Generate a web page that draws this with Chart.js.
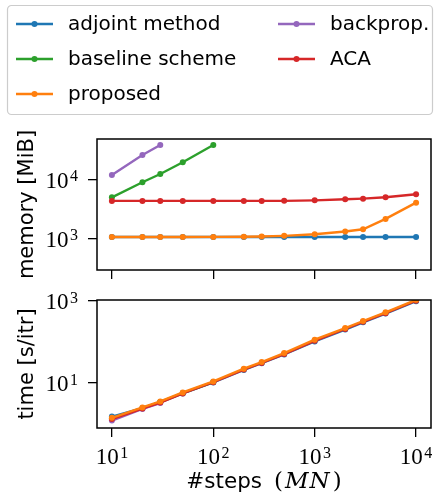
<!DOCTYPE html>
<html>
<head>
<meta charset="utf-8">
<script src="https://cdn.jsdelivr.net/npm/chart.js@4.4.0/dist/chart.umd.min.js"></script>
<style>
  html, body { margin: 0; padding: 0; background: #fff; }
  #wrap { position: relative; width: 435px; height: 493px; }
  #memWrap { position: absolute; left: 0; top: 0; width: 435px; height: 285px; }
  #timeWrap { position: absolute; left: 0; top: 285px; width: 435px; height: 208px; }
</style>
</head>
<body>
<div id="wrap">
  <div id="memWrap"><canvas id="memChart"></canvas></div>
  <div id="timeWrap"><canvas id="timeChart"></canvas></div>
</div>
<script>
const steps = [10, 20, 30, 50, 100, 200, 300, 500, 1000, 2000, 3000, 5000, 10000];

// memory [MiB]
const memAdjoint  = [1050, 1050, 1050, 1050, 1050, 1050, 1050, 1050, 1050, 1050, 1050, 1050, 1050];
const memBaseline = [4950, 8900, 12300, 19400, 38200];
const memProposed = [1050, 1050, 1050, 1052, 1055, 1060, 1070, 1100, 1170, 1300, 1420, 2130, 4020];
const memBackprop = [11800, 25800, 38200];
const memACA      = [4300, 4300, 4300, 4300, 4300, 4300, 4300, 4310, 4400, 4580, 4700, 4950, 5570];

// time [s/itr]
const timeAdjoint  = [1.5, 2.4, 3.35, 5.5, 10.2, 20.5, 30, 49, 102, 198, 298, 485, 970];
const timeBaseline = [1.35, 2.4, 3.4, 5.6, 10.4];
const timeProposed = [1.4, 2.5, 3.5, 5.8, 10.8, 22, 32, 53, 112, 215, 320, 520, 1050];
const timeBackprop = [1.2, 2.3, 3.2];
const timeACA      = [1.3, 2.35, 3.3, 5.5, 10.3, 21, 30.5, 50, 105, 205, 305, 495, 1000];

const xTicks = [10, 100, 1000, 10000];
const memTicks = [1000, 10000];
const timeTicks = [10, 1000];

const names = ['adjoint method', 'baseline scheme', 'proposed', 'backprop.', 'ACA'];
const colors = ['#1f77b4', '#2ca02c', '#ff7f0e', '#9467bd', '#d62728'];
// lower value = drawn on top
const drawOrder = [4, 3, 0, 2, 1];

function series(vals) {
  return vals.map((v, i) => ({ x: steps[i], y: v }));
}

function makeDatasets(all) {
  return all.map((vals, i) => ({
    label: names[i],
    data: series(vals),
    borderColor: colors[i],
    backgroundColor: colors[i],
    pointBackgroundColor: colors[i],
    pointBorderWidth: 0,
    pointRadius: 3,
    borderWidth: 2.4,
    tension: 0,
    order: drawOrder[i]
  }));
}

const frame = {
  id: 'frame',
  afterDatasetsDraw(chart) {
    const a = chart.chartArea;
    const ctx = chart.ctx;
    ctx.save();
    ctx.strokeStyle = '#000';
    ctx.lineWidth = 1.5;
    ctx.strokeRect(a.left, a.top, a.right - a.left, a.bottom - a.top);
    ctx.restore();
  }
};

// "10" with a raised exponent, like matplotlib's mathtext labels
const BASE_FONT = '23px "Liberation Serif"';
const EXP_FONT = '16px "Liberation Serif"';
function drawPow(ctx, v, x, y, align) {
  const e = String(Math.round(Math.log10(v)));
  ctx.font = BASE_FONT;
  const wb = ctx.measureText('10').width;
  ctx.font = EXP_FONT;
  const we = ctx.measureText(e).width;
  const w = wb + 1.5 + we;
  let x0 = align === 'right' ? x - w : x - w / 2;
  ctx.textBaseline = 'alphabetic';
  ctx.textAlign = 'left';
  ctx.fillStyle = '#000';
  ctx.font = BASE_FONT;
  ctx.fillText('10', x0, y);
  ctx.font = EXP_FONT;
  ctx.fillText(e, x0 + wb + 1.5, y - 6.5);
}

function powTicks(showX) {
  return {
    id: 'powTicks',
    afterDraw(chart) {
      const ctx = chart.ctx;
      const a = chart.chartArea;
      ctx.save();
      const ys = chart.scales.y;
      ys.ticks.forEach(t => drawPow(ctx, t.value, a.left - 19, ys.getPixelForValue(t.value) + 8.5, 'right'));
      if (showX) {
        const xs = chart.scales.x;
        xs.ticks.forEach(t => drawPow(ctx, t.value, xs.getPixelForValue(t.value), a.bottom + 36, 'center'));
      }
      ctx.restore();
    }
  };
}

const legendBox = {
  id: 'legendBox',
  afterDraw(chart) {
    const ctx = chart.ctx;
    ctx.save();
    ctx.beginPath();
    ctx.roundRect(7.5, 5.5, 425, 109, 4);
    ctx.fillStyle = '#fff';
    ctx.fill();
    ctx.strokeStyle = '#cccccc';
    ctx.lineWidth = 1.2;
    ctx.stroke();
    const cols = [[0, 1, 2], [3, 4]];
    const colX = [16, 278];
    const rowY = [24, 59, 94];
    ctx.font = '20px "DejaVu Sans"';
    ctx.textBaseline = 'middle';
    cols.forEach((idxs, c) => {
      idxs.forEach((k, r) => {
        const x0 = colX[c], y = rowY[r];
        ctx.strokeStyle = colors[k];
        ctx.lineWidth = 2.4;
        ctx.beginPath();
        ctx.moveTo(x0, y);
        ctx.lineTo(x0 + 37, y);
        ctx.stroke();
        ctx.fillStyle = colors[k];
        ctx.beginPath();
        ctx.arc(x0 + 18.5, y, 3, 0, Math.PI * 2);
        ctx.fill();
        ctx.fillStyle = '#000';
        ctx.fillText(names[k], x0 + 52, y + 1);
      });
    });
    ctx.restore();
  }
};

const xTitle = {
  id: 'xTitle',
  afterDraw(chart) {
    const ctx = chart.ctx;
    const a = chart.chartArea;
    // [text, font, extra space after]
    const parts = [
      ['#steps', '21.5px "DejaVu Sans"', 12],
      ['(', '23px "DejaVu Serif"', 2],
      ['M', 'italic 23px "DejaVu Serif"', 1],
      ['N', 'italic 23px "DejaVu Serif"', 3],
      [')', '23px "DejaVu Serif"', 0]
    ];
    ctx.save();
    let total = 0;
    parts.forEach(p => { ctx.font = p[1]; total += ctx.measureText(p[0]).width + p[2]; });
    let x = (a.left + a.right) / 2 - total / 2;
    ctx.textBaseline = 'middle';
    ctx.fillStyle = '#000';
    parts.forEach(p => {
      ctx.font = p[1];
      ctx.fillText(p[0], x, 197);
      x += ctx.measureText(p[0]).width + p[2];
    });
    ctx.restore();
  }
};

function axisBase(ticksList) {
  return {
    type: 'logarithmic',
    afterBuildTicks(axis) { axis.ticks = ticksList.map(v => ({ value: v })); },
    border: { display: false },
    grid: { display: true, drawOnChartArea: false, drawTicks: true, tickLength: 9, color: '#000', lineWidth: 1.3 },
    ticks: { autoSkip: false, maxRotation: 0, padding: 6, color: '#000', callback: () => '' }
  };
}

function yTitle(text) {
  return { display: true, text: text, color: '#000', font: { family: 'DejaVu Sans', size: 21 }, padding: { top: 15, bottom: 0 } };
}

const memCfg = {
  type: 'line',
  data: { datasets: makeDatasets([memAdjoint, memBaseline, memProposed, memBackprop, memACA]) },
  options: {
    responsive: true,
    maintainAspectRatio: false,
    animation: false,
    layout: { padding: { left: 0, right: 2, top: 139, bottom: 0 } },
    plugins: { legend: { display: false }, tooltip: { enabled: false } },
    scales: {
      x: Object.assign(axisBase(xTicks), {
        min: 7.13, max: 14030,
        afterFit(s) { s.height = 15; }
      }),
      y: Object.assign(axisBase(memTicks), {
        min: 290, max: 48200,
        afterFit(s) { s.width = 97; },
        title: yTitle('memory [MiB]')
      })
    }
  },
  plugins: [frame, legendBox, powTicks(false)]
};

const timeCfg = {
  type: 'line',
  data: { datasets: makeDatasets([timeAdjoint, timeBaseline, timeProposed, timeBackprop, timeACA]) },
  options: {
    responsive: true,
    maintainAspectRatio: false,
    animation: false,
    layout: { padding: { left: 0, right: 2, top: 15, bottom: 0 } },
    plugins: { legend: { display: false }, tooltip: { enabled: false } },
    scales: {
      x: Object.assign(axisBase(xTicks), {
        min: 7.13, max: 14030,
        afterFit(s) { s.height = 65; }
      }),
      y: Object.assign(axisBase(timeTicks), {
        min: 0.79, max: 1040,
        afterFit(s) { s.width = 97; },
        title: yTitle('time [s/itr]')
      })
    }
  },
  plugins: [frame, xTitle, powTicks(true)]
};

new Chart(document.getElementById('memChart'), memCfg);
new Chart(document.getElementById('timeChart'), timeCfg);
</script>
</body>
</html>
